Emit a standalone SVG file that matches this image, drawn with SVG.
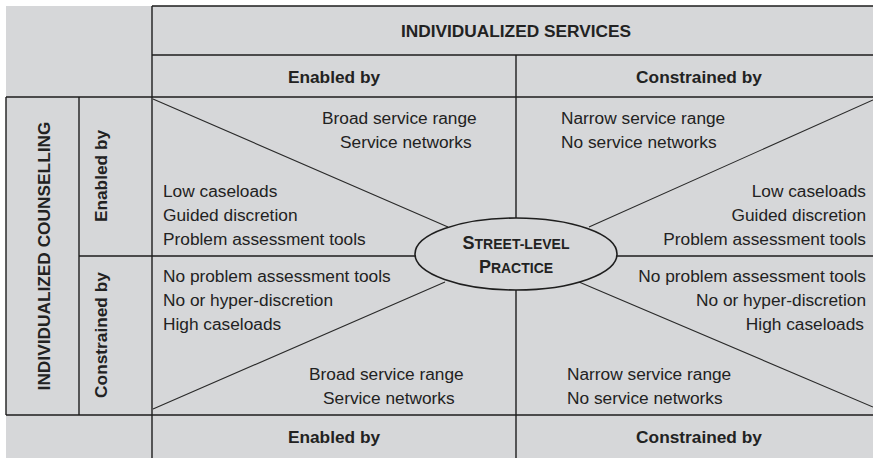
<svg xmlns="http://www.w3.org/2000/svg" width="873" height="458" viewBox="0 0 873 458">
  <style>
    .bg { fill: #d6d7d9; }
    .rule { stroke: #1e1e1e; stroke-width: 1.4; fill: none; }
    .diag { stroke: #2a2a2a; stroke-width: 1.1; fill: none; }
    .t { font-family: "Liberation Sans", Arial, sans-serif; font-size: 17.3px; fill: #222; }
    .b { font-weight: bold; }
    .mid { text-anchor: middle; }
    .end { text-anchor: end; }
    .core { fill: #d6d7d9; stroke: #1e1e1e; stroke-width: 1.6; }
    .sc { font-family: "Liberation Sans", Arial, sans-serif; font-weight: bold; fill: #222; text-anchor: middle; }
  </style>

  <rect class="bg" x="6" y="6" width="867" height="452"/>

  <!-- grid rules and diagonals -->
  <g id="connectors">
    <path class="rule" d="M152 6 H873 M152 55 H873 M6 97 H873 M6 415 H873 M79 256 H415 M617 256 H873"/>
    <path class="rule" d="M6 97 V415 M79 97 V415 M152 6 V458 M516 55 V218 M516 290 V458"/>
    <path class="diag" d="M153 99 L448 227 M153 409 L445 282 M873 100 L589 227 M579 282 L873 407"/>
  </g>

  <!-- column headers -->
  <g id="header-services">
    <text class="t b mid" x="516" y="37">INDIVIDUALIZED SERVICES</text>
  </g>
  <g id="header-top-enabled">
    <text class="t b mid" x="334" y="83">Enabled by</text>
  </g>
  <g id="header-top-constrained">
    <text class="t b mid" x="699" y="83">Constrained by</text>
  </g>
  <g id="header-bottom-enabled">
    <text class="t b mid" x="334" y="443">Enabled by</text>
  </g>
  <g id="header-bottom-constrained">
    <text class="t b mid" x="699" y="443">Constrained by</text>
  </g>

  <!-- row headers -->
  <g id="header-counselling">
    <text class="t b mid" transform="translate(50 256) rotate(-90)">INDIVIDUALIZED COUNSELLING</text>
  </g>
  <g id="header-row-enabled">
    <text class="t b mid" transform="translate(107 176) rotate(-90)">Enabled by</text>
  </g>
  <g id="header-row-constrained">
    <text class="t b mid" transform="translate(107 335) rotate(-90)">Constrained by</text>
  </g>

  <!-- upper-left quadrant -->
  <g id="quad-upper-left">
    <text class="t" x="322" y="124">Broad service range</text>
    <text class="t" x="340" y="148">Service networks</text>
    <text class="t" x="163" y="197">Low caseloads</text>
    <text class="t" x="163" y="221">Guided discretion</text>
    <text class="t" x="163" y="245">Problem assessment tools</text>
  </g>

  <!-- upper-right quadrant -->
  <g id="quad-upper-right">
    <text class="t" x="561" y="124">Narrow service range</text>
    <text class="t" x="561" y="148">No service networks</text>
    <text class="t end" x="866" y="197">Low caseloads</text>
    <text class="t end" x="866" y="221">Guided discretion</text>
    <text class="t end" x="866" y="245">Problem assessment tools</text>
  </g>

  <!-- lower-left quadrant -->
  <g id="quad-lower-left">
    <text class="t" x="163" y="282">No problem assessment tools</text>
    <text class="t" x="163" y="306">No or hyper-discretion</text>
    <text class="t" x="163" y="330">High caseloads</text>
    <text class="t" x="309" y="380">Broad service range</text>
    <text class="t" x="323" y="404">Service networks</text>
  </g>

  <!-- lower-right quadrant -->
  <g id="quad-lower-right">
    <text class="t end" x="866" y="282">No problem assessment tools</text>
    <text class="t end" x="866" y="306">No or hyper-discretion</text>
    <text class="t end" x="864" y="330">High caseloads</text>
    <text class="t" x="567" y="380">Narrow service range</text>
    <text class="t" x="567" y="404">No service networks</text>
  </g>

  <!-- central node -->
  <g id="street-level-practice">
    <ellipse class="core" cx="516" cy="254" rx="101" ry="36"/>
    <text class="sc" x="516" y="249"><tspan font-size="18px">S</tspan><tspan font-size="14px">TREET-LEVEL</tspan></text>
    <text class="sc" x="516" y="273"><tspan font-size="18px">P</tspan><tspan font-size="14px">RACTICE</tspan></text>
  </g>
</svg>
